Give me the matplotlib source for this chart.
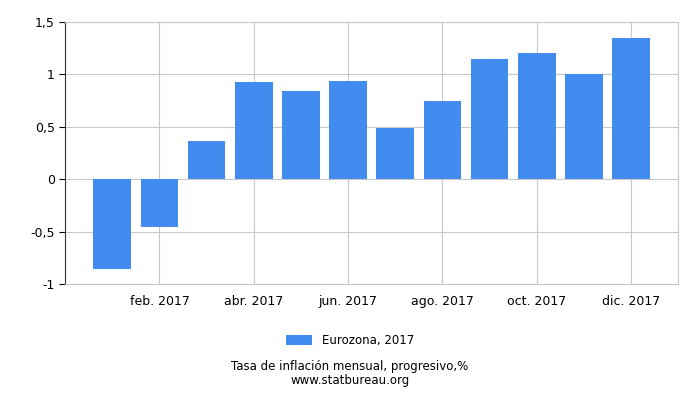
import matplotlib
matplotlib.use("Agg")
import matplotlib.pyplot as plt

months = ["ene. 2017","feb. 2017","mar. 2017","abr. 2017","may. 2017","jun. 2017",
          "jul. 2017","ago. 2017","sep. 2017","oct. 2017","nov. 2017","dic. 2017"]
values = [-0.86, -0.46, 0.36, 0.93, 0.84, 0.94, 0.49, 0.75, 1.15, 1.20, 1.00, 1.35]
yticks = [-1, -0.5, 0, 0.5, 1, 1.5]
ylabels = ["-1", "-0,5", "0", "0,5", "1", "1,5"]

fig = plt.figure(figsize=(7, 4), dpi=100)
ax = fig.add_axes([0.093, 0.29, 0.876, 0.655])
x = list(range(len(months)))
ax.bar(x, values, width=0.8, color="#428cf0", label="Eurozona, 2017", zorder=3)
ax.set_xlim(-1, 12)
ax.set_ylim(-1, 1.5)
ax.set_yticks(yticks)
ax.set_yticklabels(ylabels, fontsize=9)
ax.set_xticks(x[1::2])
ax.set_xticklabels(months[1::2], fontsize=9)
ax.grid(True, color="#c8c8c8", linewidth=0.8, zorder=0)
for s in ["top", "right"]:
    ax.spines[s].set_color("#c8c8c8")
ax.spines["left"].set_color("#333333")
ax.spines["bottom"].set_color("#c8c8c8")
ax.tick_params(axis="x", length=0, pad=8)
ax.tick_params(axis="y", length=4)
fig.legend(loc="center", bbox_to_anchor=(0.5, 0.148), frameon=False, fontsize=8.5,
           handlelength=2.2, handleheight=0.9)
fig.text(0.5, 0.075, "Tasa de inflación mensual, progresivo,%", ha="center", fontsize=8.5)
fig.text(0.5, 0.040, "www.statbureau.org", ha="center", fontsize=8.5)
fig.savefig("out.png")
